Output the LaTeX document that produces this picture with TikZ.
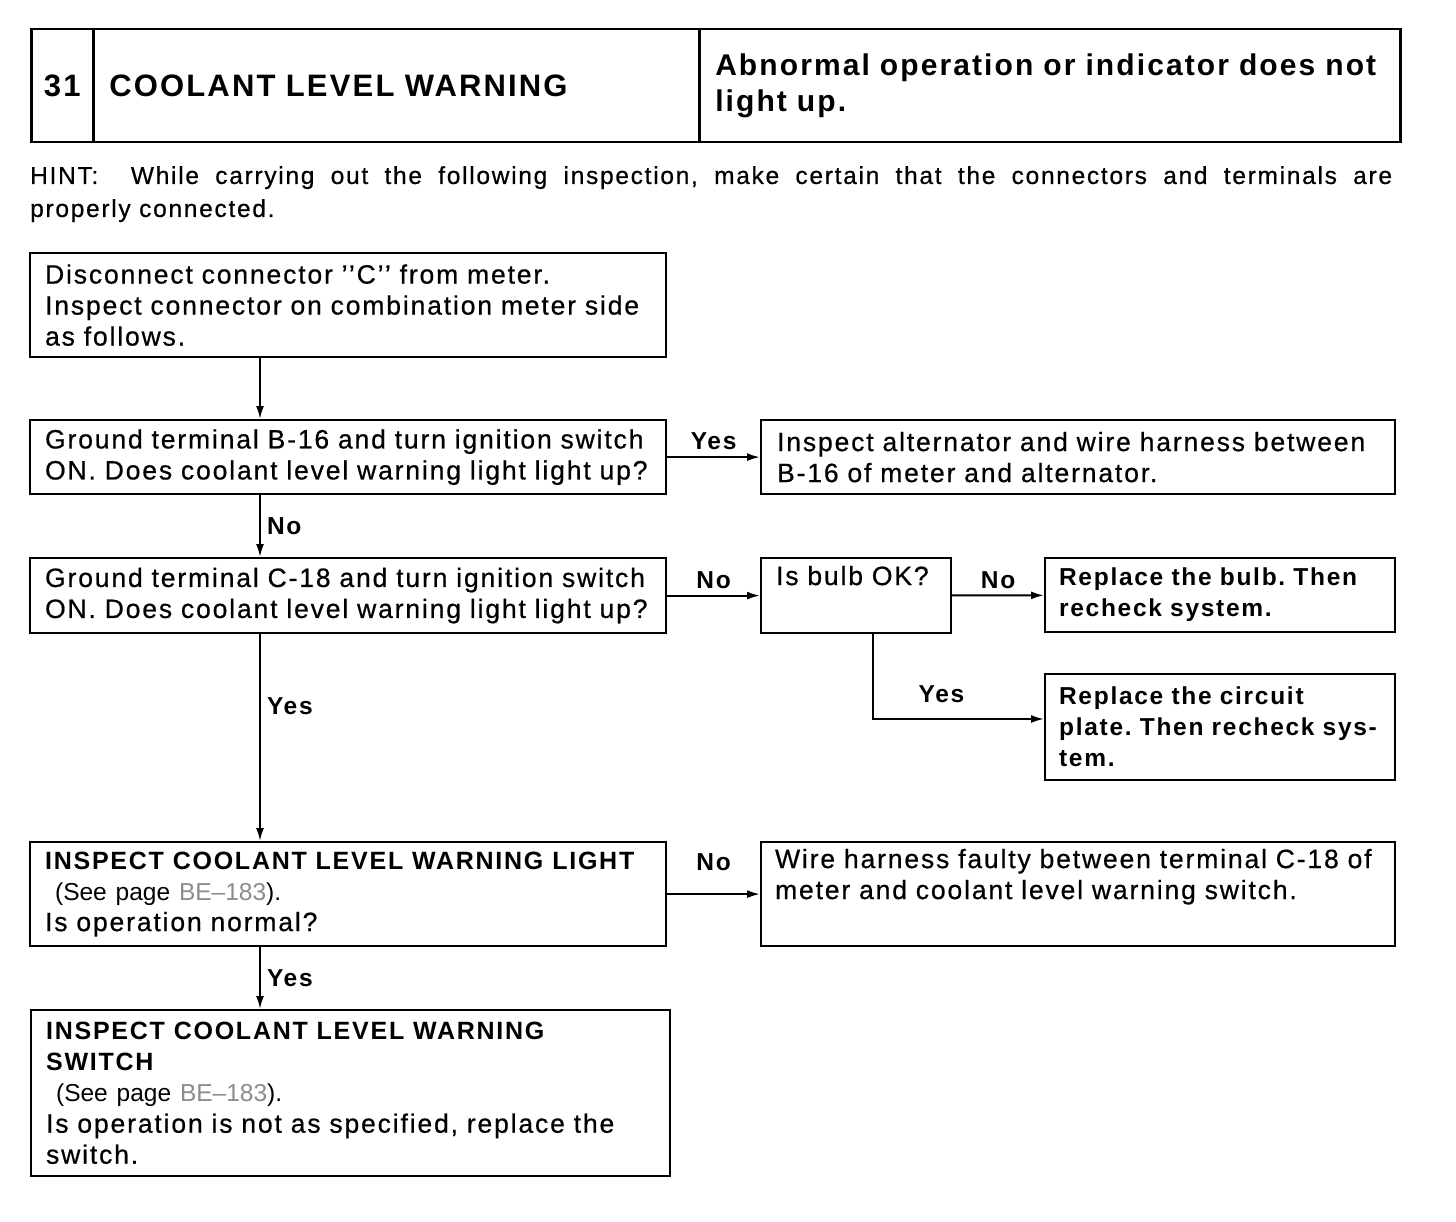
\documentclass[tikz,border=0pt]{standalone}
\usepackage{fontspec}
\setmainfont{Liberation Sans}[LetterSpace=7, UprightFeatures={FakeBold=0.6}]
\newfontfamily\seefont{Liberation Sans}[Ligatures=TeX]
\usetikzlibrary{arrows.meta,positioning}
\definecolor{pagegray}{gray}{0.55}

\tikzset{
  cell/.style={draw, line width=2.5pt, anchor=north west, minimum height=113pt,
    inner xsep=16pt, font=\fontsize{31}{36}\selectfont\bfseries},
  flow/.style={draw, line width=2.2pt, anchor=north west, align=left,
    inner xsep=15pt, inner ysep=0pt},
  strong/.style={font=\fontsize{24.5}{31}\selectfont\bfseries, inner xsep=14pt},
  link/.style={-{Latex[length=13pt,width=8pt]}, line width=2pt},
  lbl/.style={font=\fontsize{24.5}{31}\selectfont\bfseries, inner sep=6pt}
}
\newcommand\seepage{\hspace*{10pt}{\seefont\fontsize{24.5}{31}\selectfont(See page \textcolor{pagegray}{BE--183}).}}
\newcommand\boxhead[1]{{\fontsize{25}{31}\selectfont\bfseries #1}}
\newcommand\dquote{\textquoteright\textquoteright}

\begin{document}
\frenchspacing
\begin{tikzpicture}[x=1pt, y=-1pt, font=\fontsize{26.5}{31}\selectfont]
  \useasboundingbox (0,0) rectangle (1456,1222);

  % title bar
  \node[cell, minimum width=62pt, inner xsep=0pt] (num) at (30,28) {31};
  \node[cell, text width=574pt, align=left] (title) at (92,28) {COOLANT LEVEL WARNING};
  \node[cell, text width=669pt, align=left, font=\fontsize{30}{36}\selectfont\bfseries] (symptom) at (698,28)
    {Abnormal operation or indicator does not\\light up.};

  \node[anchor=north west, inner sep=0pt, text width=1362pt, align=justify,
    font=\fontsize{24.5}{33}\selectfont] (hint) at (30,166)
    {HINT:\ \ While carrying out the following inspection, make certain that the connectors and terminals are\linebreak
     properly connected.};

  % flow chart boxes
  \coordinate (spine) at (260,0);
  \coordinate (tap) at (873,719);

  \node[flow, text width=606pt, minimum height=104pt] (disc) at (29,252)
    {Disconnect connector \dquote C\dquote{} from meter.\\
     Inspect connector on combination meter side\\
     as follows.};
  \node[flow, text width=606pt, minimum height=74pt] (gndB) at (29,419)
    {Ground terminal B-16 and turn ignition switch\\
     ON. Does coolant level warning light light up?};
  \node[flow, text width=602pt, inner xsep=16pt, minimum height=74pt] (alt) at (760,419)
    {Inspect alternator and wire harness between\\
     B-16 of meter and alternator.};
  \node[flow, text width=606pt, minimum height=75pt] (gndC) at (29,557)
    {Ground terminal C-18 and turn ignition switch\\
     ON. Does coolant level warning light light up?};
  \node[flow, text width=160pt, minimum height=75pt] (bulb) at (760,557)
    {Is bulb OK?\\ \strut};
  \node[flow, strong, text width=322pt, minimum height=74pt] (bulbrep) at (1044,557)
    {Replace the bulb. Then\\
     recheck system.};
  \node[flow, strong, text width=322pt, minimum height=106pt] (plate) at (1044,673)
    {Replace the circuit\\
     plate. Then recheck sys-\\
     tem.};
  \node[flow, text width=606pt, minimum height=104pt] (lamp) at (29,841)
    {\boxhead{INSPECT COOLANT LEVEL WARNING LIGHT}\\
     \seepage\\
     Is operation normal?};
  \node[flow, text width=606pt, inner xsep=14pt, minimum height=104pt] (harness) at (760,841)
    {Wire harness faulty between terminal C-18 of\\
     meter and coolant level warning switch.\\ \strut};
  \node[flow, text width=609pt, minimum height=166pt] (switch) at (30,1009)
    {\boxhead{INSPECT COOLANT LEVEL WARNING}\\
     \boxhead{SWITCH}\\
     \seepage\\
     Is operation is not as specified, replace the\\
     switch.};

  % connectors
  \draw[link] (disc.south -| spine) -- (gndB.north -| spine);
  \draw[link] (gndB) -- node[lbl, above] {Yes} (alt);
  \draw[link] (gndB.south -| spine) -- node[lbl, right] {No} (gndC.north -| spine);
  \draw[link] (gndC) -- node[lbl, above] {No} (bulb);
  \draw[link] (bulb) -- node[lbl, above] {No} (bulbrep);
  \draw[link] (bulb.south -| tap) |- node[lbl, above, pos=0.7, yshift=9pt] {Yes} (plate.west |- tap);
  \draw[link] (gndC.south -| spine) -- node[lbl, right, pos=0.35] {Yes} (lamp.north -| spine);
  \draw[link] (lamp) -- node[lbl, above, yshift=16pt] {No} (harness);
  \draw[link] (lamp.south -| spine) -- node[lbl, right] {Yes} (switch.north -| spine);
\end{tikzpicture}
\end{document}
